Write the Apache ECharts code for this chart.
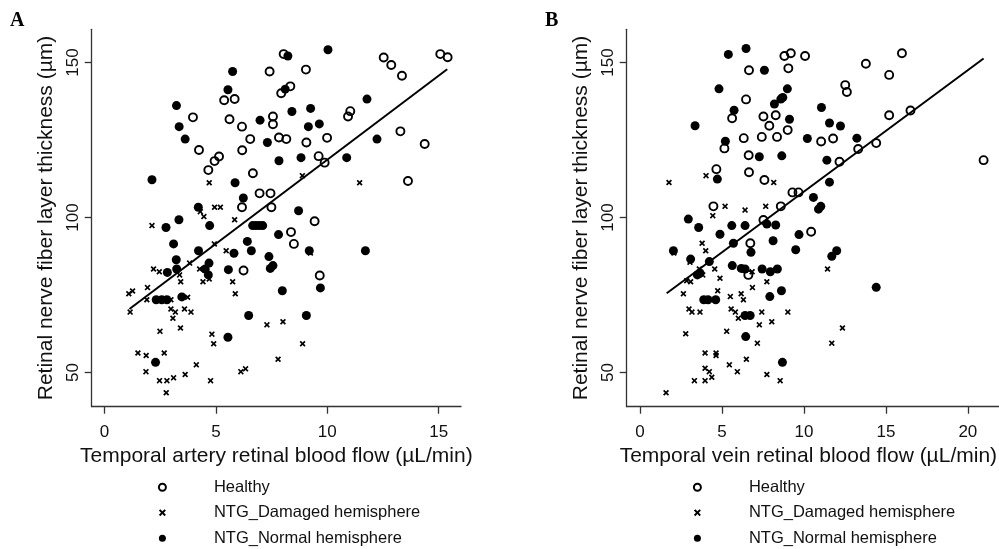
<!DOCTYPE html>
<html lang="en">
<head>
    <meta charset="UTF-8">
    <title>RNFL thickness vs temporal retinal blood flow</title>
    <script src="https://cdn.jsdelivr.net/npm/echarts@6.0.0/dist/echarts.min.js"></script>
    <style>
        body {
            margin: 0;
            padding: 0;
            background-color: #fff;
        }

        #chart {
            width: 999px;
            height: 549px;
        }
    </style>
</head>
<body>

<div id="chart"></div>

<script>
    // group names (legend order)
    const groupNames = ['Healthy', 'NTG_Damaged hemisphere', 'NTG_Normal hemisphere'];

    // ticks
    const xTicksA = [0, 5, 10, 15];
    const xTicksB = [0, 5, 10, 15, 20];
    const yTicks = [50, 100, 150];

    // panel A: temporal artery flow vs RNFL thickness
    const healthyA = [
        [8.04, 152.7], [15.07, 152.7], [15.40, 151.7], [12.53, 151.6], [12.87, 149.2], [13.35, 145.7],
        [7.41, 147.1], [9.04, 147.7], [5.37, 137.8], [5.84, 138.2], [7.93, 140.1], [8.34, 142.3],
        [3.97, 132.3], [5.61, 131.7], [7.56, 132.6], [7.56, 130.1], [11.03, 134.3], [10.93, 132.6],
        [6.17, 129.3], [6.54, 125.3], [7.83, 125.8], [8.16, 125.3], [9.06, 124.2], [9.99, 125.7],
        [13.28, 127.8], [14.37, 123.7], [4.24, 121.8], [6.18, 121.7], [5.14, 119.7], [4.94, 118.2],
        [9.61, 119.8], [9.88, 117.7], [4.66, 115.3], [6.66, 114.3], [13.62, 111.8], [6.96, 107.8],
        [7.45, 107.8], [6.17, 103.3], [7.49, 103.3], [9.43, 98.8], [8.37, 95.3], [8.50, 91.5],
        [6.24, 82.9], [9.66, 81.3]
    ];
    const damagedA = [
        [4.70, 111.2], [8.88, 113.5], [11.45, 111.2], [4.94, 103.3], [5.20, 103.3], [4.30, 101.9],
        [4.46, 100.3], [5.84, 99.3], [2.13, 97.4], [4.93, 91.5], [5.46, 89.3], [9.24, 88.6],
        [3.82, 85.3], [2.20, 83.4], [2.46, 82.5], [3.37, 81.5], [3.42, 79.3], [4.27, 83.4],
        [4.70, 80.2], [4.42, 79.3], [5.75, 79.3], [5.87, 75.4], [1.09, 75.4], [1.26, 76.3],
        [1.93, 77.4], [1.15, 69.5], [1.90, 73.5], [2.98, 73.5], [3.73, 74.3], [2.98, 70.5],
        [3.18, 69.5], [3.07, 67.5], [3.59, 70.5], [3.88, 69.5], [2.49, 63.3], [3.41, 64.4],
        [7.29, 65.4], [8.01, 66.4], [4.82, 62.4], [4.90, 59.3], [8.89, 59.3], [1.50, 56.3],
        [1.87, 55.5], [2.68, 56.3], [1.86, 50.3], [2.47, 47.4], [2.80, 47.4], [3.10, 48.3],
        [2.77, 43.5], [3.62, 49.4], [4.12, 52.5], [4.76, 47.4], [6.12, 50.3], [6.33, 51.2],
        [7.79, 54.3]
    ];
    const normalA = [
        [8.23, 152.1], [10.03, 154.1], [5.75, 147.1], [5.54, 141.2], [8.11, 141.4], [3.23, 136.1],
        [11.78, 138.2], [8.41, 134.2], [9.25, 135.2], [6.98, 131.4], [3.35, 129.3], [9.15, 129.3],
        [9.64, 130.2], [3.62, 125.3], [7.31, 124.2], [12.23, 125.3], [7.83, 118.3], [8.82, 119.3],
        [10.87, 119.3], [2.13, 112.2], [5.86, 111.2], [6.23, 106.3], [4.21, 103.3], [8.71, 102.2],
        [3.34, 99.3], [2.76, 96.8], [4.72, 97.4], [6.65, 97.4], [6.80, 97.4], [6.95, 97.4],
        [7.10, 97.4], [7.81, 94.5], [3.10, 91.5], [4.22, 89.3], [6.41, 92.3], [6.59, 89.3],
        [5.81, 88.5], [7.38, 87.4], [3.22, 86.4], [4.69, 85.3], [7.44, 83.6], [7.56, 84.5],
        [2.82, 82.3], [3.24, 83.4], [4.52, 83.4], [4.66, 81.5], [5.56, 83.2], [7.98, 76.4],
        [9.19, 89.3], [11.71, 89.3], [9.69, 77.3], [2.32, 73.5], [2.57, 73.5], [2.80, 73.5],
        [3.47, 74.4], [6.47, 68.4], [9.06, 68.4], [5.54, 61.4], [2.29, 53.3]
    ];
    const fitA = [[1.12, 70.5], [15.38, 147.8]];

    // panel B: temporal vein flow vs RNFL thickness
    const healthyB = [
        [8.81, 152.1], [9.20, 153.0], [10.07, 152.1], [6.65, 147.5], [9.05, 148.1], [6.47, 138.1],
        [5.62, 132.0], [7.53, 132.6], [8.28, 133.0], [7.89, 129.6], [9.01, 128.2], [5.15, 122.3],
        [6.33, 125.6], [7.43, 126.0], [8.36, 126.0], [6.63, 120.1], [4.66, 115.6], [6.65, 114.6],
        [7.59, 112.1], [9.30, 108.1], [9.67, 108.1], [4.48, 103.6], [8.59, 103.6], [7.53, 99.2],
        [13.78, 149.6], [15.98, 153.0], [15.20, 146.0], [12.52, 142.7], [12.62, 140.5], [11.05, 124.5],
        [11.78, 125.5], [15.20, 133.0], [16.50, 134.5], [14.41, 124.0], [13.31, 122.1], [12.17, 118.0],
        [20.96, 118.5], [10.44, 95.4], [6.73, 91.7], [6.61, 81.5]
    ];
    const damagedB = [
        [4.03, 113.5], [1.77, 111.3], [8.16, 111.3], [5.19, 103.6], [6.41, 102.4], [7.67, 103.6],
        [4.44, 100.6], [11.44, 83.4], [12.35, 64.4], [11.70, 59.5], [3.79, 91.7], [4.01, 89.3],
        [2.07, 88.6], [3.05, 85.6], [6.84, 82.5], [4.56, 83.4], [3.62, 83.4], [3.83, 81.5],
        [2.85, 79.6], [3.09, 79.3], [4.88, 80.4], [7.74, 79.3], [6.86, 77.4], [2.65, 75.4],
        [4.74, 76.4], [5.51, 74.5], [6.17, 75.4], [6.31, 73.5], [2.99, 70.5], [3.17, 69.5],
        [3.66, 69.5], [5.56, 70.5], [5.82, 69.5], [6.00, 67.5], [7.43, 69.5], [9.02, 69.5],
        [8.04, 66.4], [7.28, 65.4], [2.79, 62.5], [5.29, 63.3], [7.16, 59.5], [3.97, 56.3],
        [4.64, 56.3], [4.64, 55.5], [6.49, 54.3], [5.45, 52.5], [3.97, 51.4], [4.23, 50.3],
        [4.38, 48.5], [5.94, 50.3], [3.32, 47.4], [3.97, 47.4], [7.74, 49.4], [8.55, 47.4],
        [1.59, 43.5]
    ];
    const normalB = [
        [6.47, 154.5], [5.39, 152.6], [7.59, 147.5], [4.82, 141.5], [8.99, 141.5], [8.71, 138.7],
        [8.59, 138.2], [8.20, 136.6], [5.74, 134.6], [3.36, 129.6], [9.12, 131.7], [5.21, 124.6],
        [10.21, 125.5], [7.28, 119.6], [8.65, 119.9], [4.72, 112.4], [2.95, 99.5], [3.58, 96.8],
        [5.60, 97.4], [6.41, 97.4], [7.74, 97.9], [8.28, 97.6], [11.07, 135.5], [11.56, 130.5],
        [12.23, 129.5], [13.23, 125.6], [11.40, 118.5], [11.56, 111.4], [10.58, 106.5], [10.89, 102.7],
        [11.03, 103.6], [9.70, 94.5], [11.70, 87.5], [12.00, 89.3], [14.41, 77.5], [4.88, 94.6],
        [2.04, 89.3], [5.70, 91.7], [6.77, 88.8], [8.12, 92.5], [9.50, 89.6], [3.09, 86.6],
        [4.23, 85.8], [5.63, 84.5], [6.18, 83.6], [6.41, 83.4], [7.45, 83.4], [7.95, 82.5],
        [8.38, 83.4], [3.50, 81.5], [3.66, 82.1], [8.63, 76.4], [7.92, 74.5], [3.89, 73.5],
        [4.15, 73.5], [4.62, 73.5], [6.41, 68.4], [6.72, 68.4], [6.45, 61.6], [8.69, 53.3]
    ];
    const fitB = [[1.63, 75.6], [20.96, 151.3]];

    const FONT = '"Liberation Sans", Arial, sans-serif';
    const CROSS = 'path://M0,2L2,0L5,3L8,0L10,2L7,5L10,8L8,10L5,7L2,10L0,8L3,5Z';

    const chart = echarts.init(document.getElementById('chart'));

    function xAxisOf(gridIndex, min, max, ticks, name, namePad) {
        return {
            type: 'value', gridIndex: gridIndex, min: min, max: max,
            name: name, nameLocation: 'middle', nameGap: 37,
            nameTextStyle: { fontSize: 21, color: '#111', fontFamily: FONT, padding: namePad },
            axisLine: { show: true, onZero: false, lineStyle: { color: '#333', width: 1.3 } },
            axisTick: { show: true, length: 7, customValues: ticks, lineStyle: { color: '#333', width: 1.3 } },
            axisLabel: { customValues: ticks, fontSize: 17, margin: 17, color: '#111', fontFamily: FONT },
            splitLine: { show: false }
        };
    }

    function yAxisOf(gridIndex) {
        return {
            type: 'value', gridIndex: gridIndex, min: 39, max: 160.7,
            name: 'Retinal nerve fiber layer thickness (µm)', nameLocation: 'middle', nameGap: 35,
            nameTextStyle: { fontSize: 21, color: '#111', fontFamily: FONT },
            axisLine: { show: true, onZero: false, lineStyle: { color: '#333', width: 1.3 } },
            axisTick: { show: true, length: 7, customValues: yTicks, lineStyle: { color: '#333', width: 1.3 } },
            axisLabel: { customValues: yTicks, rotate: 90, fontSize: 17, margin: 10, color: '#111', fontFamily: FONT },
            splitLine: { show: false }
        };
    }

    function pointSeries(panel, data) {
        return [
            {
                name: groupNames[0], type: 'scatter', xAxisIndex: panel, yAxisIndex: panel,
                data: data[0], symbol: 'circle', symbolSize: 8,
                itemStyle: { color: 'rgba(255,255,255,0)', borderColor: '#000', borderWidth: 1.9, opacity: 1 }
            },
            {
                name: groupNames[1], type: 'scatter', xAxisIndex: panel, yAxisIndex: panel,
                data: data[1], symbol: CROSS, symbolSize: 6,
                itemStyle: { color: '#000', opacity: 1 }
            },
            {
                name: groupNames[2], type: 'scatter', xAxisIndex: panel, yAxisIndex: panel,
                data: data[2], symbol: 'circle', symbolSize: 9,
                itemStyle: { color: '#000', opacity: 1 }
            }
        ];
    }

    function fitSeries(panel, data) {
        return {
            name: 'fit' + panel, type: 'line', xAxisIndex: panel, yAxisIndex: panel,
            data: data, symbol: 'none', silent: true, z: 3,
            lineStyle: { color: '#000', width: 2 }
        };
    }

    function legendOf(left) {
        return {
            orient: 'vertical', left: left, top: 478.7, padding: 0,
            itemWidth: 93, itemHeight: 7, itemGap: 8.5,
            data: groupNames, selectedMode: false,
            textStyle: { fontSize: 16.5, lineHeight: 16, color: '#111', fontFamily: FONT }
        };
    }

    const letterStyle = { fontFamily: '"Liberation Serif", "Times New Roman", serif', fontWeight: 'bold', fontSize: 20, color: '#000' };

    chart.setOption({
        animation: false,
        title: [
            { text: 'A', left: 10, top: 11, padding: 0, textStyle: letterStyle },
            { text: 'B', left: 545, top: 11, padding: 0, textStyle: letterStyle }
        ],
        grid: [
            { left: 91.7, top: 29.3, width: 369.3, height: 377.4, outerBoundsMode: 'none' },
            { left: 626.7, top: 29.3, width: 372.3, height: 377.4, outerBoundsMode: 'none' }
        ],
        xAxis: [
            xAxisOf(0, -0.575, 16.0, xTicksA, 'Temporal artery retinal blood flow (µL/min)', 0),
            xAxisOf(1, -0.81, 21.9, xTicksB, 'Temporal vein retinal blood flow (µL/min)', [0, 9, 0, 0])
        ],
        yAxis: [yAxisOf(0), yAxisOf(1)],
        legend: [legendOf(157.9), legendOf(692.9)],
        series: [].concat(
            pointSeries(0, [healthyA, damagedA, normalA]),
            [fitSeries(0, fitA)],
            pointSeries(1, [healthyB, damagedB, normalB]),
            [fitSeries(1, fitB)]
        )
    });
</script>
</body>
</html>
